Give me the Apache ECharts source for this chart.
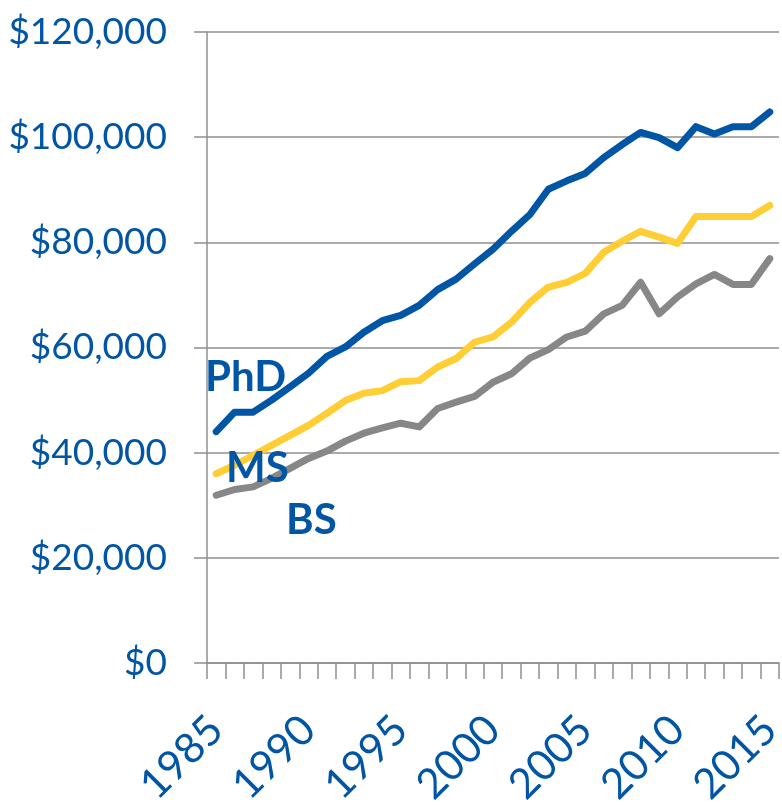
<!DOCTYPE html>
<html>
<head>
<meta charset="utf-8">
<script src="https://cdn.jsdelivr.net/npm/echarts@6/dist/echarts.min.js"></script>
<style>
  html, body { margin: 0; padding: 0; background: #fff; }
  #chart { width: 782px; height: 805px; }
</style>
</head>
<body>
<div id="chart"></div>
<script>
// years on the category axis
var years = [];
for (var y = 1985; y <= 2015; y++) years.push(String(y));

// starting salaries
var phd = [44000, 47700, 47700, 50000, 52500, 55100, 58300, 60100, 62900, 65100,
           66100, 68000, 71000, 73000, 75900, 78700, 82100, 85300, 90100, 91700,
           93100, 96100, 98600, 100900, 99900, 98000, 102000, 100600, 102000, 102000, 104800];
var ms = [36000, 37600, 39500, 41400, 43300, 45200, 47500, 49900, 51300, 51800,
          53500, 53700, 56300, 57900, 61000, 62000, 64800, 68600, 71500, 72400,
          74100, 78100, 80200, 82100, 81000, 79800, 84900, 84900, 84900, 84900, 87000];
var bs = [31900, 33000, 33500, 35100, 37000, 38900, 40300, 42200, 43700, 44700,
          45600, 44900, 48400, 49600, 50700, 53400, 55000, 58000, 59600, 62000,
          63100, 66400, 68000, 72400, 66400, 69600, 72100, 73900, 72000, 72000, 76900];

var blue = '#0055A5';
var gridGray = '#8f8f8f';

var chart = echarts.init(document.getElementById('chart'));

function line(name, data, color) {
    return {
        name: name,
        type: 'line',
        data: data,
        symbol: 'none',
        smooth: false,
        animation: false,
        lineStyle: { color: color, width: 7, cap: 'round', join: 'round' }
    };
}

var option = {
    animation: false,
    grid: {
        left: 207, right: 3, top: 32, bottom: 142,
        containLabel: false,
        outerBoundsMode: 'none'
    },
    xAxis: {
        type: 'category',
        data: years,
        boundaryGap: true,
        axisLine: { show: true, lineStyle: { color: gridGray, width: 1.5 } },
        axisTick: { show: true, interval: 0, length: 16, lineStyle: { color: gridGray, width: 1.5 } },
        axisLabel: {
            interval: 4,
            rotate: 45,
            margin: 60,
            color: blue,
            fontFamily: 'Lato',
            fontSize: 42
        },
        splitLine: { show: false }
    },
    yAxis: {
        type: 'value',
        min: 0,
        max: 120000,
        interval: 20000,
        axisLine: { show: true, lineStyle: { color: gridGray, width: 1.5 } },
        axisTick: { show: true, length: 13, lineStyle: { color: gridGray, width: 1.5 } },
        axisLabel: {
            margin: 40,
            color: blue,
            fontFamily: 'Lato',
            fontSize: 37,
            formatter: function(v) {
                return '$' + v.toLocaleString('en-US');
            }
        },
        splitLine: { show: true, lineStyle: { color: gridGray, width: 1.5 } }
    },
    // series names written over the lines
    graphic: [
        { type: 'text', left: 205, top: 356, z: 100,
          style: { text: 'PhD', fill: blue, font: 'bold 42px Lato' } },
        { type: 'text', left: 226, top: 447, z: 100,
          style: { text: 'MS', fill: blue, font: 'bold 42px Lato' } },
        { type: 'text', left: 286, top: 499, z: 100,
          style: { text: 'BS', fill: blue, font: 'bold 42px Lato' } }
    ],
    series: [
        line('BS', bs, '#878787'),
        line('MS', ms, '#FFCD34'),
        line('PhD', phd, '#0055A5')
    ]
};

chart.setOption(option);
</script>
</body>
</html>
